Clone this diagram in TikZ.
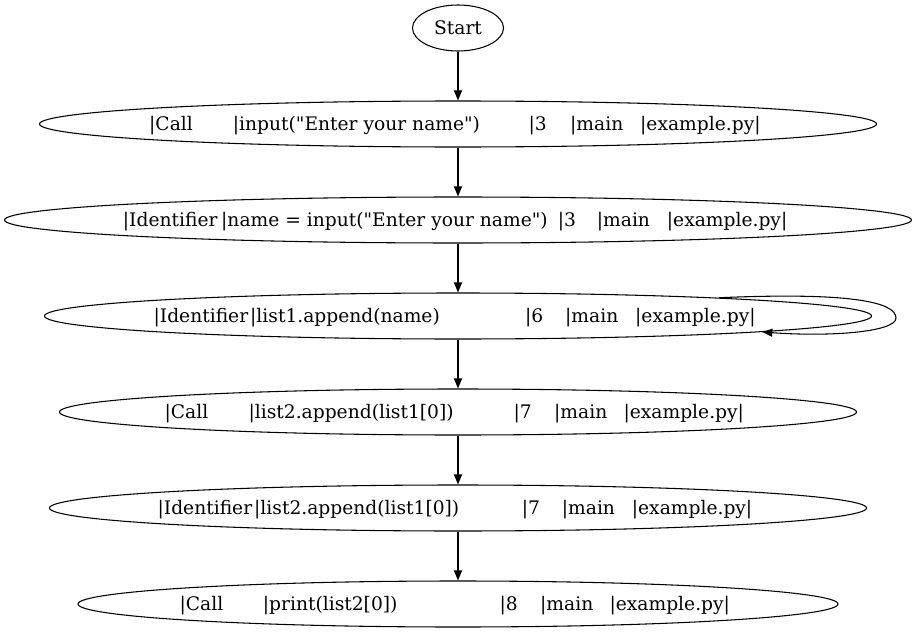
\documentclass[tikz,border=0pt]{standalone}
\usepackage{fontspec}
\newfontfamily\gvfont{DejaVu Serif}
\usetikzlibrary{arrows.meta,shapes.geometric}
\newcommand{\segfont}{\gvfont\fontsize{14}{16}\selectfont}
\tikzset{
  gnode/.style={draw, ellipse, line width=0.8pt, inner sep=0pt, minimum height={46*0.75pt}},
  seg/.style={anchor=base west, inner sep=0pt, outer sep=0pt, font=\segfont},
  arr/.style={line width=0.8pt, -{Triangle[length=7.5pt,width=6pt]}}
}
\begin{document}
\begin{tikzpicture}[x=0.75pt,y=-0.75pt]
\useasboundingbox (0,0) rectangle (917,635);
% nodes
\node[gnode, minimum width={91*0.75pt}, font=\segfont] (s) at (458,28) {Start};
\node[gnode, minimum width={837*0.75pt}] (n1) at (458,124) {};
\node[gnode, minimum width={907*0.75pt}] (n2) at (458,220) {};
\node[gnode, minimum width={827*0.75pt}] (n3) at (458,316) {};
\node[gnode, minimum width={797*0.75pt}] (n4) at (458,412) {};
\node[gnode, minimum width={817*0.75pt}] (n5) at (458,508) {};
\node[gnode, minimum width={760*0.75pt}] (n6) at (458,604) {};
% row 1
\node[seg] (r1a) at (149.2,130.8) {|Call};
\node[seg] (r1b) at (232.9,130.8) {|input("Enter your name")};
\node[seg] (r1c) at (528.6,130.8) {|3};
\node[seg] (r1d) at (570.2,130.8) {|main};
\node[seg] (r1e) at (640.2,130.8) {|example.py|};
% row 2
\node[seg] (r2a) at (122.9,226.8) {|Identifier};
\node[seg] (r2b) at (221.2,226.8) {|name = input("Enter your name")};
\node[seg] (r2c) at (557.9,226.8) {|3};
\node[seg] (r2d) at (596.9,226.8) {|main};
\node[seg] (r2e) at (666.9,226.8) {|example.py|};
% row 3
\node[seg] (r3a) at (153.6,322.8) {|Identifier};
\node[seg] (r3b) at (250.2,322.8) {|list1.append(name)};
\node[seg] (r3c) at (525.2,322.8) {|6};
\node[seg] (r3d) at (565.2,322.8) {|main};
\node[seg] (r3e) at (635.2,322.8) {|example.py|};
% row 4
\node[seg] (r4a) at (164.6,418.8) {|Call};
\node[seg] (r4b) at (248.6,418.8) {|list2.append(list1[0])};
\node[seg] (r4c) at (513.6,418.8) {|7};
\node[seg] (r4d) at (554.2,418.8) {|main};
\node[seg] (r4e) at (623.6,418.8) {|example.py|};
% row 5
\node[seg] (r5a) at (157.6,514.8) {|Identifier};
\node[seg] (r5b) at (254.2,514.8) {|list2.append(list1[0])};
\node[seg] (r5c) at (521.9,514.8) {|7};
\node[seg] (r5d) at (561.9,514.8) {|main};
\node[seg] (r5e) at (631.9,514.8) {|example.py|};
% row 6
\node[seg] (r6a) at (179.6,610.8) {|Call};
\node[seg] (r6b) at (262.9,610.8) {|print(list2[0])};
\node[seg] (r6c) at (499.6,610.8) {|8};
\node[seg] (r6d) at (540.2,610.8) {|main};
\node[seg] (r6e) at (609.6,610.8) {|example.py|};
% edges
\draw[arr] (s) -- (n1);
\draw[arr] (n1) -- (n2);
\draw[arr] (n2) -- (n3);
\draw[arr] (n3) -- (n4);
\draw[arr] (n4) -- (n5);
\draw[arr] (n5) -- (n6);
\draw[arr] (n3.4) .. controls (850,292) and (896,302) .. (896,318)
  .. controls (896,332) and (830,337) .. (n3.-3.7);
\end{tikzpicture}
\end{document}
